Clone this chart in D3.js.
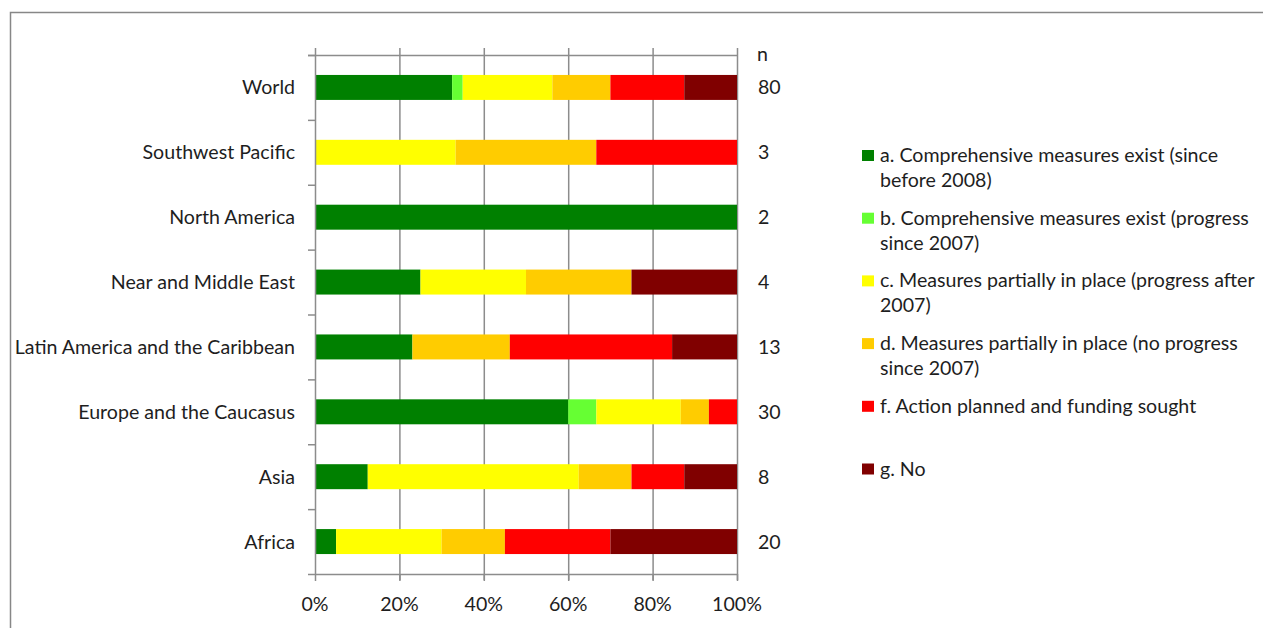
<!DOCTYPE html>
<html><head><meta charset="utf-8">
<script src="https://cdnjs.cloudflare.com/ajax/libs/d3/7.8.5/d3.min.js"></script>
<style>body{margin:0;background:#fff}svg{display:block}text{font-family:Lato,"Open Sans",sans-serif;fill:#1e1e1e}</style>
</head><body><svg id="c" width="1263" height="628"></svg>
<script>
const categories = ["World","Southwest Pacific","North America","Near and Middle East","Latin America and the Caribbean","Europe and the Caucasus","Asia","Africa"];
const counts = [80,3,2,4,13,30,8,20];
const seriesNames = ["a. Comprehensive measures exist (since before 2008)","b. Comprehensive measures exist (progress since 2007)","c. Measures partially in place (progress after 2007)","d. Measures partially in place (no progress since 2007)","f. Action planned and funding sought","g. No"];
const legendLines = [["a. Comprehensive measures exist (since","before 2008)"],["b. Comprehensive measures exist (progress","since 2007)"],["c. Measures partially in place (progress after","2007)"],["d. Measures partially in place (no progress","since 2007)"],["f. Action planned and funding sought"],["g. No"]];
const seriesColors = ["#008000","#66FF33","#FFFF00","#FFCC00","#FF0000","#800000"];
// percentages per category, order matches categories
const sA = [32.5,0,100,25,23.08,60,12.5,5];
const sB = [2.5,0,0,0,0,6.67,0,0];
const sC = [21.25,33.33,0,25,0,20,50,25];
const sD = [13.75,33.33,0,25,23.08,6.67,12.5,15];
const sF = [17.5,33.34,0,0,38.46,6.66,12.5,25];
const sG = [12.5,0,0,25,15.38,0,12.5,30];
const xTicks = [0,20,40,60,80,100];

const series = [sA,sB,sC,sD,sF,sG];
const FS = 19.6;
const svg = d3.select("#c");
// outer frame
svg.append("rect").attr("x",10.5).attr("y",12.5).attr("width",1270).attr("height",640).attr("fill","none").attr("stroke","#878787").attr("stroke-width",1.5);

const x = d3.scaleLinear().domain([0,100]).range([315,737]);
const y = d3.scaleBand().domain(categories).range([55,574]).paddingInner(0.615).paddingOuter(0.3075);
const band = d3.scaleBand().domain(categories).range([55,574]);

const grid = "#8c8c8c";
// vertical gridlines
svg.append("g").selectAll("line").data(xTicks.slice(1)).join("line")
  .attr("x1",d=>x(d)+0.5).attr("x2",d=>x(d)+0.5).attr("y1",48).attr("y2",580)
  .attr("stroke",grid).attr("stroke-width",1.5);
// top line
svg.append("line").attr("x1",308).attr("x2",x(100)+0.5).attr("y1",55.5).attr("y2",55.5).attr("stroke",grid).attr("stroke-width",1.5);

// stacked bars
const stackData = categories.map((c,i)=>{const o={cat:c}; series.forEach((s,j)=>o["s"+j]=s[i]); return o;});
const stack = d3.stack().keys(series.map((s,j)=>"s"+j))(stackData);
svg.append("g").selectAll("g").data(stack).join("g").attr("fill",(d,i)=>seriesColors[i])
  .selectAll("rect").data(d=>d).join("rect")
  .attr("x",d=>x(d[0])).attr("width",d=>Math.max(0,x(d[1])-x(d[0])))
  .attr("y",d=>y(d.data.cat)).attr("height",y.bandwidth());

// left axis
svg.append("line").attr("x1",315.5).attr("x2",315.5).attr("y1",48).attr("y2",574).attr("stroke",grid).attr("stroke-width",1.5);
const bounds = categories.map(c=>band(c)).concat([574]);
svg.append("g").selectAll("line").data(bounds).join("line")
  .attr("x1",308).attr("x2",315).attr("y1",d=>d+0.5).attr("y2",d=>d+0.5).attr("stroke",grid).attr("stroke-width",1.5);
// bottom axis
svg.append("line").attr("x1",315).attr("x2",x(100)+1).attr("y1",574.5).attr("y2",574.5).attr("stroke",grid).attr("stroke-width",1.5);
svg.append("g").selectAll("line").data(xTicks).join("line")
  .attr("x1",d=>x(d)+0.5).attr("x2",d=>x(d)+0.5).attr("y1",574).attr("y2",581).attr("stroke",grid).attr("stroke-width",1.5);
svg.append("g").selectAll("text").data(xTicks).join("text")
  .attr("x",d=>x(d)).attr("y",611).attr("text-anchor","middle").attr("font-size",FS).text(d=>d+"%");

// category labels
svg.append("g").selectAll("text").data(categories).join("text")
  .attr("x",295).attr("y",c=>y(c)+y.bandwidth()/2+7).attr("text-anchor","end").attr("font-size",FS).text(c=>c);
// n labels
svg.append("text").attr("x",757).attr("y",61).attr("font-size",FS).text("n");
svg.append("g").selectAll("text").data(counts).join("text")
  .attr("x",758).attr("y",(d,i)=>y(categories[i])+y.bandwidth()/2+7).attr("font-size",FS).text(d=>d);

// legend
const lg = svg.append("g");
legendLines.forEach((lines,i)=>{
  const yy = 155 + i*62.7;
  lg.append("rect").attr("x",862).attr("y",yy-5).attr("width",12).attr("height",11).attr("fill",seriesColors[i]);
  lines.forEach((t,k)=>lg.append("text").attr("x",880).attr("y",yy+7+k*25).attr("font-size",FS).text(t));
});
</script></body></html>
